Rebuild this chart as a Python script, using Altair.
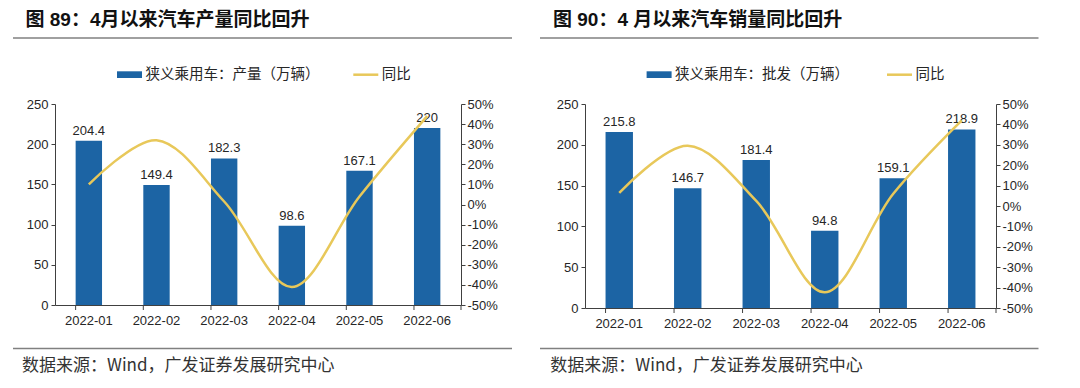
import altair as alt
import pandas as pd

# ---------------- data ----------------
months = ["2022-01", "2022-02", "2022-03", "2022-04", "2022-05", "2022-06"]
prod_values = [204.4, 149.4, 182.3, 98.6, 167.1, 220.0]
prod_yoy = [0.100, 0.320, 0.015, -0.410, 0.040, 0.440]
sales_values = [215.8, 146.7, 181.4, 94.8, 159.1, 218.9]
sales_yoy = [0.064, 0.295, 0.025, -0.423, 0.060, 0.420]
left_ticks = [0, 50, 100, 150, 200, 250]
right_ticks = [-0.5, -0.4, -0.3, -0.2, -0.1, 0.0, 0.1, 0.2, 0.3, 0.4, 0.5]

title_left = "图 89：4月以来汽车产量同比回升"
title_right = "图 90：4 月以来汽车销量同比回升"
legend_left = "狭义乘用车：产量（万辆）"
legend_right = "狭义乘用车：批发（万辆）"
legend_line = "同比"
source_text = "数据来源：Wind，广发证券发展研究中心"

# ---------------- style ----------------
BLUE = "#1c64a4"
YEL = "#e8c85a"
TXT = "#262626"
AX = "#404040"
RULE = "#808080"
LAT = "Liberation Sans, Noto Sans CJK SC"
CJK = "Noto Sans CJK SC, Liberation Sans"
PCT_EXPR = "(datum.value < 0 ? '-' : '') + format(abs(datum.value), '.0%')"


def one():
    return alt.Data(values=[{"d": 0}])


def panel(values, yoy, W, H, pin, dec, anchor=False):
    df = pd.DataFrame({"month": months, "value": values, "yoy": yoy})
    base = alt.Chart(df)
    xscale = alt.Scale(paddingInner=pin, paddingOuter=pin / 2)
    bars = base.mark_bar(color=BLUE).encode(
        x=alt.X("month:N", sort=months, scale=xscale,
                axis=alt.Axis(title=None, labelAngle=0, ticks=False, tickSize=0,
                              labelPadding=9, labelFontSize=13, labelFont=LAT,
                              labelColor=TXT, domainColor=AX, domainWidth=1)),
        y=alt.Y("value:Q", scale=alt.Scale(domain=[0, 250], nice=False, zero=True),
                axis=alt.Axis(title=None, orient="left", values=left_ticks, grid=False,
                              tickSize=4, tickColor=AX, labelPadding=3, labelFontSize=13,
                              labelFont=LAT, labelColor=TXT, domainColor=AX)),
    )
    labels = base.mark_text(baseline="alphabetic", dy=-6, fontSize=13, font=LAT,
                            color=TXT).encode(
        x=alt.X("month:N", sort=months),
        y=alt.Y("value:Q", scale=alt.Scale(domain=[0, 250], nice=False), axis=None),
        text=alt.Text("value:Q", format=".4~g"),
    )
    xticks = base.mark_rule(color=AX, strokeWidth=1).encode(
        x=alt.X("month:N", sort=months, bandPosition=0),
        y=alt.value(H), y2=alt.value(H + 5),
    )
    endtick = alt.Chart(one()).mark_rule(color=AX, strokeWidth=1).encode(
        x=alt.value(W), y=alt.value(H), y2=alt.value(H + 5))
    line = base.mark_line(color=YEL, strokeWidth=2.5, interpolate="catmull-rom").encode(
        x=alt.X("month:N", sort=months),
        y=alt.Y("yoy:Q", scale=alt.Scale(domain=[-0.5, 0.5], nice=False, zero=False),
                axis=alt.Axis(title=None, orient="right", values=right_ticks,
                              labelExpr=PCT_EXPR,
                              grid=False, tickSize=4, tickColor=AX, labelPadding=2,
                              labelFontSize=13, labelFont=LAT, labelColor=TXT,
                              domainColor=AX)),
    )

    title = alt.Chart(one()).mark_text(
        text=dec["title"], align="left", baseline="middle", fontSize=19,
        fontWeight="bold", font=LAT, color="#111111").encode(
        x=alt.value(dec["title_x"]), y=alt.value(-84))
    top_rule = alt.Chart(one()).mark_rule(color=RULE, strokeWidth=1.6).encode(
        x=alt.value(dec["r0"]), x2=alt.value(dec["r1"]), y=alt.value(-66))
    bot_rule = alt.Chart(one()).mark_rule(color=RULE, strokeWidth=1.6).encode(
        x=alt.value(dec["r0"]), x2=alt.value(dec["r1"]), y=alt.value(244.5))
    leg_rect = alt.Chart(one()).mark_rect(color=BLUE).encode(
        x=alt.value(dec["lr0"]), x2=alt.value(dec["lr0"] + 25),
        y=alt.value(-32.7), y2=alt.value(-26))
    leg_text = alt.Chart(one()).mark_text(
        text=dec["legend"], align="left", baseline="middle", fontSize=14.5,
        font=CJK, color=TXT).encode(x=alt.value(dec["lr0"] + 28.5), y=alt.value(-29.3))
    leg_line = alt.Chart(one()).mark_rule(color=YEL, strokeWidth=2.5).encode(
        x=alt.value(dec["ll0"]), x2=alt.value(dec["ll0"] + 25), y=alt.value(-29.3))
    leg_line_text = alt.Chart(one()).mark_text(
        text=legend_line, align="left", baseline="middle", fontSize=14.5,
        font=CJK, color=TXT).encode(x=alt.value(dec["ll0"] + 28.5), y=alt.value(-29.3))
    source = alt.Chart(one()).mark_text(
        text=source_text, align="left", baseline="middle", fontSize=17,
        font=CJK, color="#333333").encode(x=alt.value(dec["src_x"]), y=alt.value(261.5))

    layers = [bars, labels, xticks, endtick, line, title, top_rule, bot_rule,
              leg_rect, leg_text, leg_line, leg_line_text, source]
    if anchor:
        layers.append(alt.Chart(one()).mark_rect(opacity=0).encode(
            x=alt.value(-47), x2=alt.value(-46), y=alt.value(-96), y2=alt.value(-95)))
    return alt.layer(*layers).resolve_scale(y="independent").properties(width=W, height=H)


left = panel(prod_values, prod_yoy, 406, 201, 0.61,
             dict(title=title_left, title_x=-29.5, r0=-42, r1=457, lr0=62, ll0=298.3,
                  legend=legend_left, src_x=-33), anchor=True)
right = panel(sales_values, sales_yoy, 411, 204, 0.60,
              dict(title=title_right, title_x=-32, r0=-45, r1=453.5, lr0=61.6, ll0=302,
                   legend=legend_right, src_x=-34.7))

chart = alt.hconcat(left, right, spacing=124, bounds="flush", padding=0).configure_view(
    strokeWidth=0)

chart.save("out.html", embed_options={"renderer": "svg", "actions": False})
